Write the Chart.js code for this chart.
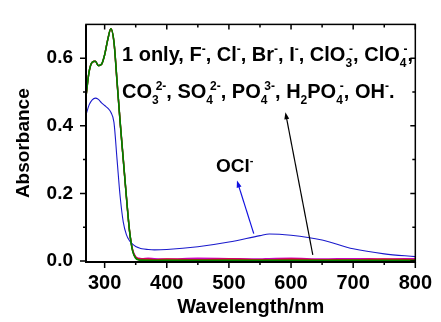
<!DOCTYPE html>
<html>
<head>
<meta charset="utf-8">
<script src="https://cdn.jsdelivr.net/npm/chart.js@4/dist/chart.umd.min.js"></script>
<style>
  html, body { margin: 0; padding: 0; background: #fff; }
  #wrap { width: 441px; height: 322px; }
</style>
</head>
<body>
<div id="wrap"><canvas id="uvChart" width="441" height="322"></canvas></div>
<script>
// Wavelength grid (nm) shared by all spectra
const wavelengths = [270, 275, 280, 285, 290, 295, 300, 305, 310, 315, 320, 325, 330, 335, 340, 345, 350, 355, 360, 370, 380, 400, 450, 500, 550, 565, 600, 650, 700, 750, 800];

// 1 only and with the other anions (all overlap)
const anionGreen   = [0.487, 0.56, 0.588, 0.591, 0.578, 0.582, 0.61, 0.655, 0.687, 0.648, 0.53, 0.41, 0.30, 0.19, 0.09, 0.03, 0.008, 0.003, 0.002, 0.001, 0.001, 0.001, 0.001, 0.001, 0.001, 0.001, 0.001, 0.001, 0.001, 0.001, 0.001];
const anionOlive   = [0.487, 0.56, 0.588, 0.591, 0.578, 0.582, 0.61, 0.655, 0.687, 0.648, 0.53, 0.41, 0.30, 0.19, 0.09, 0.03, 0.009, 0.004, 0.003, 0.003, 0.002, 0.003, 0.002, 0.003, 0.002, 0.003, 0.002, 0.002, 0.003, 0.002, 0.002];
const anionRed     = [0.487, 0.56, 0.588, 0.591, 0.578, 0.582, 0.61, 0.655, 0.687, 0.648, 0.53, 0.41, 0.30, 0.19, 0.09, 0.032, 0.011, 0.006, 0.005, 0.005, 0.004, 0.005, 0.004, 0.005, 0.004, 0.004, 0.005, 0.004, 0.004, 0.005, 0.004];
const anionMagenta = [0.487, 0.56, 0.588, 0.591, 0.578, 0.582, 0.61, 0.655, 0.687, 0.648, 0.53, 0.41, 0.30, 0.19, 0.09, 0.034, 0.013, 0.008, 0.007, 0.008, 0.007, 0.006, 0.008, 0.007, 0.006, 0.007, 0.008, 0.006, 0.007, 0.006, 0.007];

// 1 + OCl-
const oclBlue = [0.432, 0.462, 0.477, 0.482, 0.478, 0.468, 0.46, 0.452, 0.44, 0.41, 0.30, 0.19, 0.115, 0.078, 0.06, 0.05, 0.043, 0.039, 0.036, 0.034, 0.033, 0.034, 0.042, 0.056, 0.075, 0.08, 0.076, 0.062, 0.036, 0.021, 0.013];

const xTickLabels = [300, 400, 500, 600, 700, 800];
const xMinorTicks = [350, 450, 550, 650, 750];
const yTickLabels = [0.0, 0.2, 0.4, 0.6];
const yMinorTicks = [0.1, 0.3, 0.5];

// Annotation text, as rich text pieces
const anionLine1 = [
  { t: '1 only, F' }, { sup: '-' }, { t: ', Cl' }, { sup: '-' }, { t: ', Br' }, { sup: '-' },
  { t: ', I' }, { sup: '-' }, { t: ', ClO' }, { sub: '3', sup: '-' }, { t: ', ClO' }, { sub: '4', sup: '-' }, { t: ',' }
];
const anionLine2 = [
  { t: 'CO' }, { sub: '3', sup: '2-' }, { t: ', SO' }, { sub: '4', sup: '2-' }, { t: ', PO' }, { sub: '4', sup: '3-' },
  { t: ', H' }, { sub: '2' }, { t: 'PO' }, { sub: '4', sup: '-' }, { t: ', OH' }, { sup: '-' }, { t: '.' }
];
const oclLabel = [{ t: 'OCl' }, { sup: '-' }];

// Arrows in data coordinates [x1, y1, x2, y2], head at the second point
const blueArrow = [540, 0.081, 513, 0.238];
const blackArrow = [635, 0.018, 591, 0.44];

const FONT = "'Liberation Sans', Arial, sans-serif";

function drawRich(ctx, parts, x, y, size) {
  const small = Math.round(size * 0.6);
  parts.forEach(p => {
    if (p.t) {
      ctx.font = `bold ${size}px ${FONT}`;
      ctx.fillText(p.t, x, y);
      x += ctx.measureText(p.t).width;
    } else {
      ctx.font = `bold ${small}px ${FONT}`;
      let w = 0;
      if (p.sub) {
        ctx.fillText(p.sub, x, y + size * 0.28);
        w = ctx.measureText(p.sub).width;
      }
      if (p.sup) {
        ctx.fillText(p.sup, x + (p.sub ? w * 0.55 : 0), y - size * 0.42);
        w = Math.max(w, (p.sub ? w * 0.55 : 0) + ctx.measureText(p.sup).width);
      }
      x += w;
    }
  });
}

function drawArrow(ctx, x1, y1, x2, y2, color) {
  const ang = Math.atan2(y2 - y1, x2 - x1);
  const len = 7, half = 2.5;
  ctx.strokeStyle = color;
  ctx.fillStyle = color;
  ctx.lineWidth = 1.2;
  ctx.beginPath();
  ctx.moveTo(x1, y1);
  ctx.lineTo(x2 - Math.cos(ang) * len * 0.8, y2 - Math.sin(ang) * len * 0.8);
  ctx.stroke();
  ctx.beginPath();
  ctx.moveTo(x2, y2);
  ctx.lineTo(x2 - Math.cos(ang) * len - Math.sin(ang) * half, y2 - Math.sin(ang) * len + Math.cos(ang) * half);
  ctx.lineTo(x2 - Math.cos(ang) * len + Math.sin(ang) * half, y2 - Math.sin(ang) * len - Math.cos(ang) * half);
  ctx.closePath();
  ctx.fill();
}

// Frame, ticks on all four sides, text and arrows
const framePlugin = {
  id: 'frame',
  afterDraw(chart) {
    const ctx = chart.ctx;
    const { left, right, top, bottom } = chart.chartArea;
    const xs = chart.scales.x, ys = chart.scales.y;
    ctx.save();
    ctx.strokeStyle = '#000';
    ctx.lineWidth = 1.5;
    ctx.strokeRect(left, top, right - left, bottom - top);
    ctx.lineWidth = 2;
    ctx.beginPath();
    ctx.moveTo(left, top); ctx.lineTo(left, bottom); ctx.lineTo(right, bottom);
    ctx.stroke();

    ctx.lineWidth = 1.5;
    ctx.beginPath();
    const tickX = (vals, major) => vals.forEach(v => {
      const px = xs.getPixelForValue(v);
      ctx.moveTo(px, bottom); ctx.lineTo(px, bottom + (major ? 6 : 3));
      ctx.moveTo(px, top); ctx.lineTo(px, top + (major ? 5 : 3));
    });
    const tickY = (vals, major) => vals.forEach(v => {
      const py = ys.getPixelForValue(v);
      ctx.moveTo(left, py); ctx.lineTo(left - (major ? 6 : 3), py);
      ctx.moveTo(right, py); ctx.lineTo(right - (major ? 5 : 3), py);
    });
    tickX(xTickLabels, true); tickX(xMinorTicks, false);
    tickY(yTickLabels, true); tickY(yMinorTicks, false);
    ctx.stroke();

    ctx.fillStyle = '#000';
    ctx.textBaseline = 'alphabetic';
    ctx.textAlign = 'left';
    drawRich(ctx, anionLine1, 122, 61, 20);
    drawRich(ctx, anionLine2, 122, 98, 20);
    drawRich(ctx, oclLabel, 216, 172, 19);

    const P = a => [xs.getPixelForValue(a[0]), ys.getPixelForValue(a[1]), xs.getPixelForValue(a[2]), ys.getPixelForValue(a[3])];
    drawArrow(ctx, ...P(blueArrow), '#1010e0');
    drawArrow(ctx, ...P(blackArrow), '#000');
    ctx.restore();
  }
};

const line = (data, color, width) => ({
  data: data,
  borderColor: color,
  borderWidth: width,
  pointRadius: 0,
  fill: false,
  cubicInterpolationMode: 'monotone'
});

new Chart(document.getElementById('uvChart'), {
  type: 'line',
  data: {
    labels: wavelengths,
    datasets: [
      line(anionGreen, '#008000', 1.6),
      line(oclBlue, '#1a1acc', 1.1),
      line(anionOlive, '#6b6b00', 1.4),
      line(anionRed, '#e00000', 1.4),
      line(anionMagenta, '#d000c0', 1.4)
    ]
  },
  options: {
    responsive: false,
    animation: false,
    layout: { padding: { left: 0, right: 18, top: 13, bottom: 0 } },
    plugins: { legend: { display: false }, tooltip: { enabled: false } },
    scales: {
      x: {
        type: 'linear',
        min: 270,
        max: 800,
        grid: { display: false, drawTicks: false },
        border: { display: false },
        afterBuildTicks: axis => { axis.ticks = xTickLabels.map(v => ({ value: v })); },
        afterFit: axis => { axis.height = 60; },
        ticks: {
          padding: 9,
          maxRotation: 0,
          color: '#000',
          font: { family: FONT, size: 20, weight: 'bold' }
        },
        title: {
          display: true,
          text: 'Wavelength/nm',
          color: '#000',
          padding: { top: 0, bottom: 3 },
          font: { family: FONT, size: 20, weight: 'bold' }
        }
      },
      y: {
        min: -0.003,
        max: 0.7,
        grid: { display: false, drawTicks: false },
        border: { display: false },
        afterBuildTicks: axis => { axis.ticks = yTickLabels.map(v => ({ value: v })); },
        afterFit: axis => { axis.width = 86; },
        ticks: {
          padding: 13,
          color: '#000',
          font: { family: FONT, size: 19, weight: 'bold' },
          callback: v => Number(v).toFixed(1)
        },
        title: {
          display: true,
          text: 'Absorbance',
          color: '#000',
          padding: { top: 12, bottom: 0 },
          font: { family: FONT, size: 19, weight: 'bold' }
        }
      }
    }
  },
  plugins: [framePlugin]
});
</script>
</body>
</html>
